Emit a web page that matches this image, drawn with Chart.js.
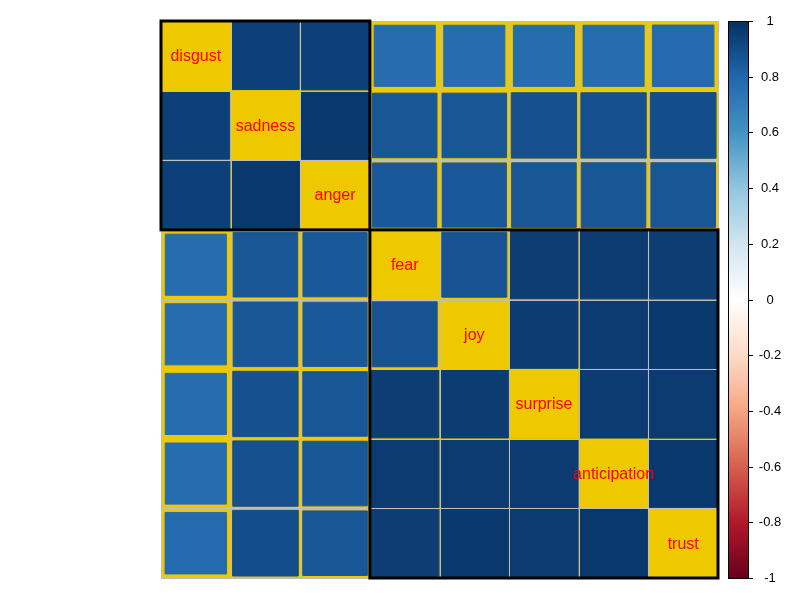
<!DOCTYPE html>
<html><head><meta charset="utf-8">
<script src="https://cdn.jsdelivr.net/npm/chart.js@4/dist/chart.umd.min.js"></script>
<style>html,body{margin:0;padding:0;background:#fff}#wrap{width:800px;height:600px}</style>
</head><body><div id="wrap"><canvas id="c" width="800" height="600"></canvas></div>
<script>
const emotions = ['disgust','sadness','anger','fear','joy','surprise','anticipation','trust'];
const disgust      = [1.00, 0.94, 0.94, 0.77, 0.77, 0.77, 0.77, 0.78];
const sadness      = [0.94, 1.00, 0.97, 0.86, 0.86, 0.88, 0.88, 0.89];
const anger        = [0.94, 0.97, 1.00, 0.85, 0.85, 0.86, 0.86, 0.86];
const fear         = [0.77, 0.86, 0.85, 1.00, 0.87, 0.95, 0.96, 0.95];
const joy          = [0.77, 0.86, 0.85, 0.87, 1.00, 0.955, 0.96, 0.97];
const surprise     = [0.77, 0.88, 0.86, 0.95, 0.955, 1.00, 0.96, 0.96];
const anticipation = [0.77, 0.88, 0.86, 0.96, 0.96, 0.96, 1.00, 0.97];
const trust        = [0.78, 0.89, 0.86, 0.95, 0.97, 0.96, 0.97, 1.00];
const corrRows = [disgust, sadness, anger, fear, joy, surprise, anticipation, trust];
const clusters = [[0,3],[3,8]];
const legendTicks = [1, 0.8, 0.6, 0.4, 0.2, 0, -0.2, -0.4, -0.6, -0.8, -1];
const legendTickLabels = ['1','0.8','0.6','0.4','0.2','0','-0.2','-0.4','-0.6','-0.8','-1'];

const rdbu = ["#67001F","#B2182B","#D6604D","#F4A582","#FDDBC7","#FFFFFF","#D1E5F0","#92C5DE","#4393C3","#2166AC","#053061"];
function hex2rgb(h){return [parseInt(h.substr(1,2),16),parseInt(h.substr(3,2),16),parseInt(h.substr(5,2),16)];}
function corrColor(v){
  let t = (v+1)/2*10; let i = Math.min(9, Math.floor(t)); let f = t - i;
  const a = hex2rgb(rdbu[i]), b = hex2rgb(rdbu[i+1]);
  const c = a.map((x,k)=>Math.round(x+(b[k]-x)*f));
  return 'rgb('+c.join(',')+')';
}

const points = [];
corrRows.forEach((row,i)=>row.forEach((v,j)=>{ if(i!==j) points.push({x:j+0.5, y:i+0.5, v:v}); }));

function sideRadius(ctx){
  const ch = ctx.chart; const xs = ch.scales.x;
  if(!xs || !ctx.raw) return 0;
  const cell = Math.abs(xs.getPixelForValue(1) - xs.getPixelForValue(0));
  return cell*Math.sqrt(Math.abs(ctx.raw.v))/Math.SQRT2;
}
const fillCol = ctx => ctx.raw ? corrColor(ctx.raw.v) : '#000';

const deco = {
  id:'deco',
  beforeDatasetsDraw(chart){
    const {ctx, chartArea:a} = chart;
    ctx.save(); ctx.fillStyle = '#EEC900';
    ctx.fillRect(a.left, a.top, a.right-a.left, a.bottom-a.top);
    ctx.restore();
  },
  afterDatasetsDraw(chart){
    const {ctx} = chart; const xs = chart.scales.x, ys = chart.scales.y, cb = chart.scales.cb;
    const n = emotions.length;
    ctx.save();
    // grid
    ctx.strokeStyle = '#BEBEBE'; ctx.lineWidth = 1;
    for(let k=0;k<=n;k++){
      const px = Math.round(xs.getPixelForValue(k))+0.5;
      const py = Math.round(ys.getPixelForValue(k))+0.5;
      ctx.beginPath(); ctx.moveTo(px, ys.getPixelForValue(0)); ctx.lineTo(px, ys.getPixelForValue(n)); ctx.stroke();
      ctx.beginPath(); ctx.moveTo(xs.getPixelForValue(0), py); ctx.lineTo(xs.getPixelForValue(n), py); ctx.stroke();
    }
    // diagonal labels
    ctx.fillStyle = '#FF0000'; ctx.font = '16px "Liberation Sans", Arial, sans-serif';
    ctx.textAlign = 'center'; ctx.textBaseline = 'middle';
    emotions.forEach((lab,i)=>{
      ctx.fillText(lab, xs.getPixelForValue(i+0.5), ys.getPixelForValue(i+0.5)+1);
    });
    // cluster rectangles
    ctx.strokeStyle = '#000'; ctx.lineWidth = 3;
    clusters.forEach(([s,e])=>{
      const x0 = xs.getPixelForValue(s), x1 = xs.getPixelForValue(e);
      const y0 = ys.getPixelForValue(s), y1 = ys.getPixelForValue(e);
      ctx.strokeRect(x0, y0, x1-x0, y1-y0);
    });
    // colour legend
    const bx = 728, bw = 20;
    const top = cb.getPixelForValue(1), bot = cb.getPixelForValue(-1);
    const g = ctx.createLinearGradient(0, bot, 0, top);
    rdbu.forEach((c,k)=>g.addColorStop(k/10, c));
    ctx.fillStyle = g; ctx.fillRect(bx, top, bw, bot-top);
    ctx.strokeStyle = '#000'; ctx.lineWidth = 1;
    ctx.strokeRect(bx+0.5, Math.round(top)+0.5, bw, Math.round(bot-top));
    ctx.fillStyle = '#000'; ctx.font = '13px "Liberation Sans", Arial, sans-serif';
    ctx.textAlign = 'center'; ctx.textBaseline = 'middle';
    legendTicks.forEach((t,k)=>{
      const py = Math.round(cb.getPixelForValue(t))+0.5;
      ctx.beginPath(); ctx.moveTo(bx+bw, py); ctx.lineTo(bx+bw+5, py); ctx.stroke();
      ctx.fillText(legendTickLabels[k], 770, py);
    });
    ctx.restore();
  }
};

new Chart(document.getElementById('c'), {
  type:'scatter',
  data:{datasets:[{
    data: points,
    pointStyle:'rect',
    backgroundColor: fillCol,
    borderColor: fillCol,
    borderWidth:1,
    pointRadius: sideRadius,
    pointHoverRadius: sideRadius,
    pointHoverBorderWidth:1
  }]},
  options:{
    responsive:false, animation:false, devicePixelRatio:1,
    layout:{padding:{left:161,right:82,top:21,bottom:22}},
    scales:{
      x:{type:'linear',min:0,max:8,display:false},
      y:{type:'linear',min:0,max:8,reverse:true,display:false},
      cb:{type:'linear',position:'right',min:-1,max:1,display:false}
    },
    plugins:{legend:{display:false},tooltip:{enabled:false}},
    events:[]
  },
  plugins:[deco]
});
</script></body></html>
